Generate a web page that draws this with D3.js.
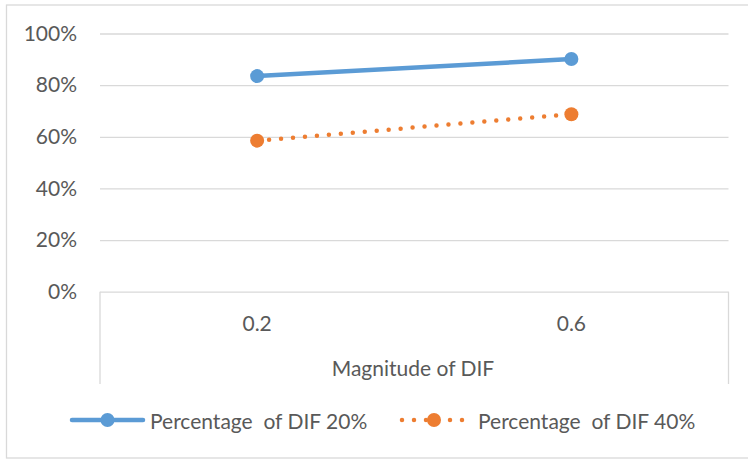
<!DOCTYPE html>
<html>
<head>
<meta charset="utf-8">
<script src="https://cdn.jsdelivr.net/npm/d3@7"></script>
<style>
  html, body { margin: 0; padding: 0; background: #fff; }
  svg { display: block; }
  text { font-family: Lato, "Open Sans", sans-serif; fill: #595959; }
</style>
</head>
<body>
<svg id="chart" width="748" height="459"></svg>
<script>
// Category axis: magnitude of DIF
const categories = ["0.2", "0.6"];
// Detection rates for each DIF percentage condition
const seriesNames = ["Percentage  of DIF 20%", "Percentage  of DIF 40%"];
const dif20 = [0.835, 0.901];
const dif40 = [0.585, 0.687];
const yTicks = [0, 0.2, 0.4, 0.6, 0.8, 1.0];
const xTitle = "Magnitude of DIF";

const colors = ["#5B9BD5", "#ED7D31"];
const series = [
  { name: seriesNames[0], values: dif20, color: colors[0], dash: null },
  { name: seriesNames[1], values: dif40, color: colors[1], dash: "0 12" }
];

const svg = d3.select("#chart");
const W = 748, H = 459;
const plot = { left: 100, right: 728.5, top: 33.5, bottom: 291.7 };
const fontSize = 21;

// outer chart frame
svg.append("rect")
  .attr("x", 6.5).attr("y", 5).attr("width", W + 2).attr("height", 453)
  .attr("fill", "none").attr("stroke", "#d9d9d9").attr("stroke-width", 1.3);

const x = d3.scaleBand().domain(categories).range([plot.left, plot.right]).padding(0);
const y = d3.scaleLinear().domain([0, 1]).range([plot.bottom, plot.top]);

// horizontal gridlines + y labels
const yAxis = d3.axisLeft(y).tickValues(yTicks).tickFormat(d3.format(".0%"))
  .tickSize(-(plot.right - plot.left)).tickPadding(23);
const gy = svg.append("g").attr("transform", `translate(${plot.left},0)`).call(yAxis);
gy.select(".domain").remove();
gy.selectAll(".tick line").attr("stroke", "#d9d9d9").attr("stroke-width", 1.3);
gy.selectAll(".tick text").attr("font-size", fontSize).attr("fill", "#595959")
  .style("font-family", "Lato, 'Open Sans', sans-serif");

// category axis: edge ticks and labels
const axisBottomY = 384;
svg.append("g").selectAll("line")
  .data([plot.left, plot.right])
  .join("line")
  .attr("x1", d => d).attr("x2", d => d)
  .attr("y1", plot.bottom).attr("y2", axisBottomY)
  .attr("stroke", "#d9d9d9").attr("stroke-width", 1.3);

svg.append("g").selectAll("text")
  .data(categories)
  .join("text")
  .attr("x", d => x(d) + x.bandwidth() / 2)
  .attr("y", 322)
  .attr("text-anchor", "middle")
  .attr("dominant-baseline", "central")
  .attr("font-size", fontSize)
  .text(d => d);

svg.append("text")
  .attr("x", 413).attr("y", 367)
  .attr("text-anchor", "middle")
  .attr("dominant-baseline", "central")
  .attr("font-size", fontSize)
  .text(xTitle);

// series lines and markers
const line = d3.line()
  .x((d, i) => x(categories[i]) + x.bandwidth() / 2)
  .y(d => y(d));

series.forEach(s => {
  svg.append("path")
    .datum(s.values)
    .attr("d", line)
    .attr("fill", "none")
    .attr("stroke", s.color)
    .attr("stroke-width", 4.5)
    .attr("stroke-linecap", "round")
    .attr("stroke-dasharray", s.dash);
  svg.append("g").selectAll("circle")
    .data(s.values)
    .join("circle")
    .attr("cx", (d, i) => x(categories[i]) + x.bandwidth() / 2)
    .attr("cy", d => y(d))
    .attr("r", 7)
    .attr("fill", s.color);
});

// legend
const legendY = 420;
const legendItems = [
  { x0: 72, x1: 143, tx: 150 },
  { x0: 402, x1: 466, tx: 478 }
];
series.forEach((s, i) => {
  const it = legendItems[i];
  const g = svg.append("g");
  g.append("line")
    .attr("x1", it.x0).attr("x2", it.x1)
    .attr("y1", legendY).attr("y2", legendY)
    .attr("stroke", s.color).attr("stroke-width", 4.5)
    .attr("stroke-linecap", "round")
    .attr("stroke-dasharray", s.dash);
  g.append("circle")
    .attr("cx", (it.x0 + it.x1) / 2).attr("cy", legendY)
    .attr("r", 7).attr("fill", s.color);
  g.append("text")
    .attr("x", it.tx).attr("y", legendY)
    .attr("dominant-baseline", "central")
    .attr("font-size", fontSize)
    .style("white-space", "pre")
    .attr("xml:space", "preserve")
    .text(s.name);
});
</script>
</body>
</html>
